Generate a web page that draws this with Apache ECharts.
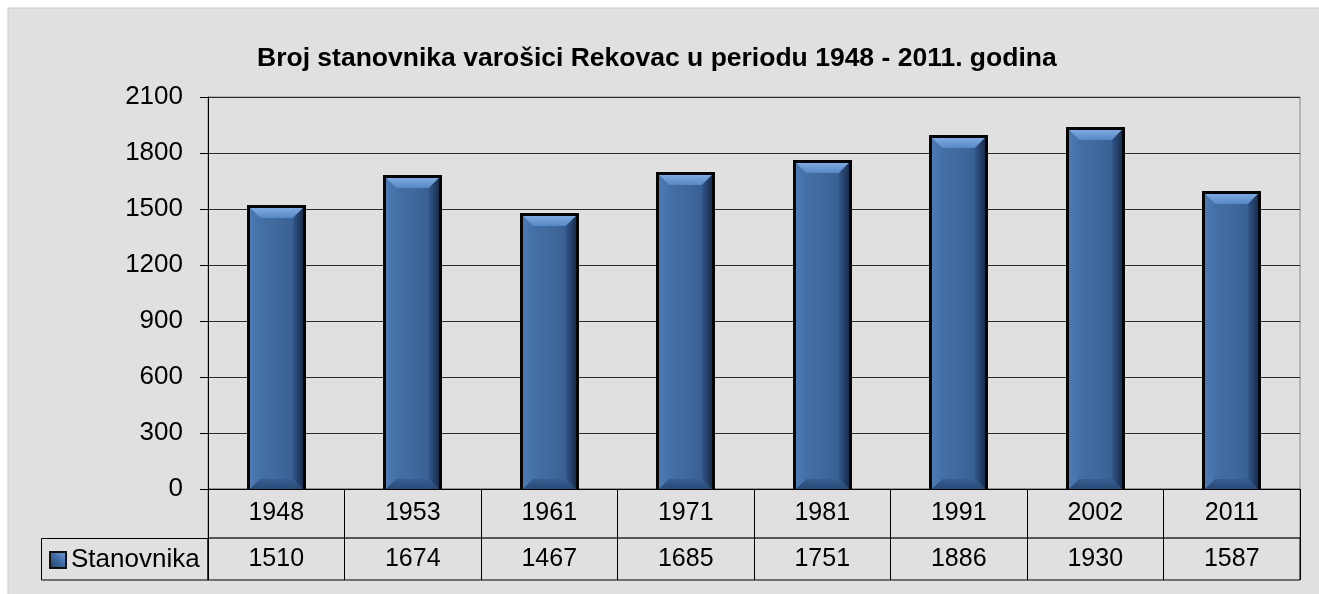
<!DOCTYPE html>
<html>
<head>
<meta charset="utf-8">
<script src="https://cdn.jsdelivr.net/npm/echarts@6/dist/echarts.min.js"></script>
<style>
html,body{margin:0;padding:0;background:#fff;}
#chart{width:1319px;height:594px;}
</style>
</head>
<body>
<div id="chart"></div>
<script>
const years = ['1948','1953','1961','1971','1981','1991','2002','2011'];
const population = [1510, 1674, 1467, 1685, 1751, 1886, 1930, 1587];
const seriesName = 'Stanovnika';
const titleText = 'Broj stanovnika varošici Rekovac u periodu 1948 - 2011. godina';
const yTicks = {min: 0, max: 2100, interval: 300};

const FONT = "'Liberation Sans', Arial, sans-serif";
const chart = echarts.init(document.getElementById('chart'));

function renderBar(params, api) {
  const idx = api.value(0);
  const v = api.value(1);
  const top = api.coord([idx, v]);
  const base = api.coord([idx, 0]);
  const catW = api.size([1, 0])[0];
  const w = Math.round(catW * 0.43);
  const ox0 = Math.round(top[0] - w / 2);
  const ox1 = ox0 + w;
  const oy0 = Math.round(top[1]) - 2;
  const oy1 = Math.round(base[1]);
  const bd = 3;
  const x0 = ox0 + bd, x1 = ox1 - bd, y0 = oy0 + bd, y1 = oy1;
  const b = Math.min(10, (y1 - y0) / 2);
  const LG = echarts.graphic.LinearGradient;
  return {
    type: 'group',
    children: [
      {type: 'rect', shape: {x: ox0, y: oy0, width: w, height: oy1 - oy0}, style: {fill: '#050505'}},
      {type: 'rect', shape: {x: x0, y: y0, width: x1 - x0, height: y1 - y0},
        style: {fill: new LG(0, 0, 1, 0, [
          {offset: 0, color: '#4774ab'}, {offset: 0.45, color: '#416a9e'},
          {offset: 0.8, color: '#3a6194'}, {offset: 1, color: '#2a4a75'}])}},
      {type: 'polygon', shape: {points: [[x0, y0], [x1, y0], [x1 - b, y0 + b], [x0 + b, y0 + b]]},
        style: {fill: new LG(0, 0, 0, 1, [{offset: 0, color: '#7eaae0'}, {offset: 1, color: '#5787c4'}])}},
      {type: 'polygon', shape: {points: [[x0, y0], [x0 + b, y0 + b], [x0 + b, y1 - b], [x0, y1]]},
        style: {fill: new LG(0, 0, 1, 0, [{offset: 0, color: '#4d7ab3'}, {offset: 1, color: '#4571a8'}])}},
      {type: 'polygon', shape: {points: [[x1, y0], [x1, y1], [x1 - b, y1 - b], [x1 - b, y0 + b]]},
        style: {fill: new LG(0, 0, 1, 0, [{offset: 0, color: '#31568a'}, {offset: 1, color: '#1a2e4d'}])}},
      {type: 'polygon', shape: {points: [[x0, y1], [x0 + b, y1 - b], [x1 - b, y1 - b], [x1, y1]]},
        style: {fill: new LG(0, 0, 0, 1, [{offset: 0, color: '#375e92'}, {offset: 1, color: '#284a76'}])}}
    ]
  };
}

const cellLabel = (size) => ({show: true, position: 'inside', color: '#000', fontFamily: FONT, fontSize: size,
  textBorderWidth: 0, textShadowBlur: 0, opacity: 1});

const option = {
  backgroundColor: '#ffffff',
  animation: false,
  title: {
    text: titleText, left: 252, top: 40,
    textStyle: {fontFamily: FONT, fontSize: 26.5, fontWeight: 'bold', color: '#000'}
  },
  legend: {
    left: 44, top: 542, itemWidth: 16, itemHeight: 16, icon: 'rect', itemGap: 5,
    textStyle: {fontFamily: FONT, fontSize: 26, color: '#000'},
    data: [{name: seriesName, itemStyle: {
      color: new echarts.graphic.LinearGradient(0, 1, 1, 0, [{offset: 0, color: '#1e3a60'}, {offset: 0.5, color: '#3d6aa3'}, {offset: 1, color: '#7aa6dc'}]),
      borderColor: '#111', borderWidth: 2}}]
  },
  graphic: [
    {type: 'rect', z: -100, shape: {x: 8, y: 8, width: 1330, height: 600},
      style: {fill: '#e0e0e0', stroke: '#cdcdcd', lineWidth: 1}},
    {type: 'rect', z: 10, shape: {x: 41.5, y: 538.5, width: 166.5, height: 41.5},
      style: {fill: 'none', stroke: '#000', lineWidth: 1}}
  ],
  grid: [
    {left: 208, top: 97, width: 1092, height: 392, show: true, backgroundColor: 'transparent', borderColor: '#888', borderWidth: 1},
    {left: 208, top: 489, width: 1092, height: 49, show: true, backgroundColor: 'transparent', borderColor: '#777', borderWidth: 1},
    {left: 208, top: 538, width: 1092, height: 42, show: true, backgroundColor: 'transparent', borderColor: '#000', borderWidth: 1}
  ],
  xAxis: [
    {type: 'category', gridIndex: 0, data: years, boundaryGap: true,
      axisLine: {show: true, lineStyle: {color: '#000', width: 1}}, axisTick: {show: false},
      axisLabel: {show: false}, splitLine: {show: false}},
    {type: 'category', gridIndex: 1, data: years, boundaryGap: true,
      axisLine: {show: false}, axisTick: {show: false}, axisLabel: {show: false},
      splitLine: {show: true, lineStyle: {color: '#000', width: 1}}},
    {type: 'category', gridIndex: 2, data: years, boundaryGap: true,
      axisLine: {show: false}, axisTick: {show: false}, axisLabel: {show: false},
      splitLine: {show: true, lineStyle: {color: '#000', width: 1}}}
  ],
  yAxis: [
    {type: 'value', gridIndex: 0, min: yTicks.min, max: yTicks.max, interval: yTicks.interval,
      axisLine: {show: true, lineStyle: {color: '#000', width: 1}},
      axisTick: {show: true, inside: false, length: 8, lineStyle: {color: '#000'}},
      axisLabel: {margin: 25, color: '#000', fontFamily: FONT, fontSize: 26, formatter: (v) => String(v)},
      splitLine: {show: true, lineStyle: {color: '#2a2a2a', width: 1}}},
    {type: 'value', gridIndex: 1, min: 0, max: 1, show: false, splitLine: {show: false}},
    {type: 'value', gridIndex: 2, min: 0, max: 1, show: false, splitLine: {show: false}}
  ],
  series: [
    {name: seriesName, type: 'custom', xAxisIndex: 0, yAxisIndex: 0, renderItem: renderBar,
      itemStyle: {color: '#3d6699'}, z: 3,
      data: population.map((v, i) => [i, v])},
    {type: 'scatter', xAxisIndex: 1, yAxisIndex: 1, symbolSize: 1, itemStyle: {color: '#000', opacity: 0},
      silent: true, data: years.map((y, i) => [i, 0.5]),
      label: Object.assign(cellLabel(25), {formatter: (p) => years[p.data[0]]})},
    {type: 'scatter', xAxisIndex: 2, yAxisIndex: 2, symbolSize: 1, itemStyle: {color: '#000', opacity: 0},
      silent: true, data: population.map((v, i) => [i, 0.5]),
      label: Object.assign(cellLabel(25), {formatter: (p) => String(population[p.data[0]])})}
  ]
};
chart.setOption(option);
</script>
</body>
</html>
